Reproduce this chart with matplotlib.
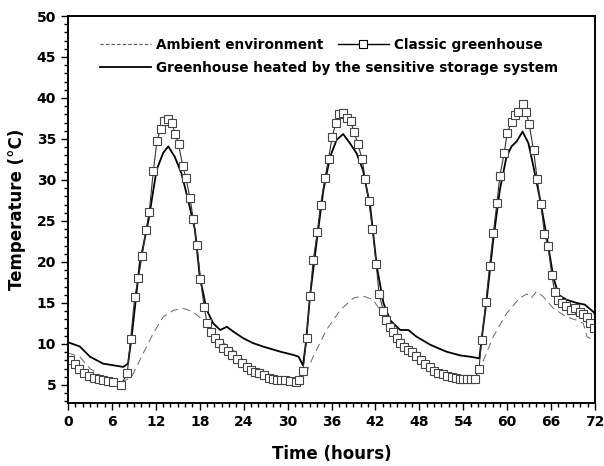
import matplotlib
matplotlib.use("Agg")
import matplotlib.pyplot as plt
from matplotlib.ticker import MultipleLocator
from matplotlib.lines import Line2D

# ---------------- data ----------------
ambient_t = [0.0, 1.6, 3.0, 4.4, 5.7, 7.1, 8.7, 10.3, 11.65, 13.0, 14.4, 15.75, 17.1, 18.5,
             19.5, 21.0, 22.5, 24.0, 25.5, 27.0, 28.5, 30.0, 31.5, 32.2, 33.5, 35.3, 37.2,
             39.0, 40.3, 41.7, 42.6, 43.5, 45.0, 46.5, 48.0, 49.5, 51.0, 52.5, 54.0, 55.5,
             56.2, 58.1, 59.9, 61.7, 62.7, 63.3, 64.0, 64.9, 66.3, 68.1, 69.5, 70.4, 70.9,
             71.5, 72.0]
ambient_T = [8.9, 8.45, 7.0, 6.2, 5.6, 5.2, 6.0, 8.9, 11.3, 13.3, 14.1, 14.35, 13.9, 12.9,
             11.8, 10.3, 9.3, 8.0, 7.0, 6.3, 6.1, 5.7, 5.5, 5.8, 8.45, 11.7, 14.15,
             15.6, 15.85, 15.4, 14.15, 12.7, 10.8, 9.3, 8.2, 7.2, 6.4, 6.0, 5.8, 5.9,
             6.8, 10.9, 13.7, 15.6, 16.1, 15.6, 16.4, 15.8, 14.35, 13.3, 12.9, 12.5, 10.9,
             10.6, 10.9]

classic_t = [0.3, 0.9, 1.5, 2.2, 2.9, 3.55, 4.2, 4.85, 5.5, 6.2, 7.2, 8.1, 8.56, 9.11, 9.61,
             10.1, 10.66, 11.1, 11.66, 12.16, 12.66, 13.1, 13.7, 14.2, 14.66, 15.1, 15.67,
             16.1, 16.67, 17.1, 17.6, 18.1, 18.6, 19.0, 19.6, 20.1, 20.6, 21.2, 21.8, 22.4,
             23.1, 23.8, 24.4, 25.0, 25.6, 26.1, 26.8, 27.5, 28.05, 28.6, 29.05, 29.6, 30.3,
             31.1, 31.6, 32.1, 32.6, 33.06, 33.5, 34.06, 34.5, 35.1, 35.6, 36.07, 36.6,
             37.0, 37.6, 38.07, 38.6, 39.07, 39.6, 40.2, 40.6, 41.1, 41.6, 42.1, 42.5,
             43.1, 43.5, 44.0, 44.4, 44.9, 45.4, 45.9, 46.5, 47.0, 47.6, 48.2, 48.8, 49.4,
             50.0, 50.6, 51.2, 51.8, 52.4, 53.0, 53.6, 54.0, 54.5, 55.0, 55.6, 56.15, 56.5,
             57.1, 57.6, 58.1, 58.6, 59.0, 59.6, 60.0, 60.6, 61.1, 61.5, 62.1, 62.6, 63.0,
             63.6, 64.1, 64.6, 65.1, 65.6, 66.1, 66.5, 67.0, 67.5, 68.1, 68.7, 69.3, 69.9,
             70.4, 70.9, 71.3, 71.8]
classic_T = [8.0, 7.5, 7.0, 6.5, 6.1, 5.9, 5.7, 5.6, 5.5, 5.4, 5.0, 6.4, 10.6, 15.7, 18.0,
             20.7, 23.9, 26.1, 31.1, 34.8, 36.2, 37.2, 37.4, 36.9, 35.6, 34.4, 31.7,
             30.3, 27.8, 25.3, 22.1, 17.9, 14.5, 12.6, 11.4, 10.7, 10.1, 9.55, 9.1, 8.7,
             8.2, 7.7, 7.2, 6.8, 6.6, 6.4, 6.2, 5.8, 5.7, 5.6, 5.6, 5.55, 5.5,
             5.4, 5.6, 6.7, 10.7, 15.9, 20.2, 23.6, 26.95, 30.2, 32.6, 35.2, 36.9,
             38.1, 38.2, 37.6, 37.2, 35.9, 34.4, 32.5, 30.1, 27.4, 24.0, 19.8, 16.1,
             14.0, 12.9, 12.1, 11.4, 10.7, 10.1, 9.6, 9.3, 9.0, 8.5, 8.0, 7.6, 7.2,
             6.75, 6.5, 6.3, 6.1, 5.94, 5.8, 5.73, 5.73, 5.77, 5.77, 5.77, 6.9, 10.5,
             15.1, 19.5, 23.5, 27.2, 30.5, 33.3, 35.7, 37.1, 37.9, 38.3, 39.3, 38.3, 36.8,
             33.7, 30.1, 27.1, 23.4, 21.9, 18.4, 16.3, 15.4, 15.0, 14.6, 14.15, 14.35, 13.9,
             13.7, 13.3, 12.6, 11.9]

heated_t = [0.0, 1.6, 3.0, 4.8, 6.2, 7.55, 8.2, 8.7, 9.8, 11.0, 12.1, 13.0, 13.7, 14.6, 15.5,
            16.4, 17.35, 18.0, 18.95, 19.85, 20.8, 21.7, 22.6, 23.95, 25.3, 26.7, 29.0,
            30.8, 31.5, 32.1, 32.5, 33.06, 34.0, 34.9, 35.8, 36.7, 37.6, 38.5, 39.4, 40.3,
            41.3, 42.2, 43.1, 44.0, 45.4, 46.5, 47.6, 49.5, 51.7, 53.6, 54.9, 56.2, 56.5,
            57.2, 58.1, 59.0, 59.9, 60.6, 61.3, 62.1, 62.9, 63.6, 64.5, 65.4, 66.3, 67.0,
            68.1, 69.5, 70.6, 71.8, 72.0]
heated_T = [10.2, 9.7, 8.45, 7.6, 7.4, 7.2, 7.6, 10.9, 19.8, 25.1, 31.2, 33.3, 34.1, 32.8, 30.8,
            27.6, 23.9, 18.2, 14.15, 12.5, 11.7, 12.1, 11.5, 10.7, 10.1, 9.67, 9.06,
            8.66, 8.45, 7.4, 10.1, 15.8, 22.7, 28.8, 32.8, 34.9, 35.6, 34.5, 33.3, 31.2,
            26.7, 19.4, 15.0, 12.9, 11.7, 11.7, 10.9, 9.9, 9.06, 8.6, 8.45, 8.25, 10.5,
            15.4, 22.7, 28.8, 32.8, 34.1, 34.7, 35.9, 34.5, 31.6, 27.6, 23.1, 18.2, 16.0,
            15.4, 15.0, 14.8, 13.9, 13.6]

x_ticks = list(range(0, 73, 6))
y_ticks = list(range(5, 51, 5))

labels = ["Ambient environment", "Classic greenhouse",
          "Greenhouse heated by the sensitive storage system"]

# ---------------- figure ----------------
plt.rcParams['font.family'] = ['DejaVu Sans']
plt.rcParams['font.weight'] = 'bold'

fig = plt.figure(figsize=(6.04, 4.66), dpi=100)
ax = fig.add_axes([68/604, 1-403/466, (595-68)/604, (403-16)/466])

amb_style = dict(color='#666666', lw=0.7, linestyle=(0, (8, 5)))
cls_style = dict(color='#333333', lw=0.8, marker='s', markersize=5.8,
                 markerfacecolor='white', markeredgecolor='#444444', markeredgewidth=0.8)
hea_style = dict(color='black', lw=1.3)

ax.plot(ambient_t, ambient_T, **amb_style)
ax.plot(heated_t, heated_T, **hea_style)
ax.plot(classic_t, classic_T, **cls_style)

ax.set_xlim(0, 72)
ax.set_ylim(2.8, 50)
ax.set_xticks(x_ticks)
ax.set_yticks(y_ticks)
ax.xaxis.set_minor_locator(MultipleLocator(1))
ax.yaxis.set_minor_locator(MultipleLocator(1))
ax.tick_params(which='both', direction='out', top=False, right=False, width=1.0,
               labelsize=10)
ax.tick_params(which='major', length=5)
ax.tick_params(which='minor', length=3)
for lab in ax.get_xticklabels() + ax.get_yticklabels():
    lab.set_fontweight('bold')
for s in ax.spines.values():
    s.set_linewidth(1.4)

ax.set_xlabel("Time (hours)", fontsize=12, fontweight='bold', labelpad=12)
ax.set_ylabel("Temperature (°C)", fontsize=12, fontweight='bold', labelpad=8)

# legends
h_amb = Line2D([], [], color='#555555', lw=0.8, linestyle=(0, (3, 2)))
h_cls = Line2D([], [], color='black', lw=1.0, marker='s', markersize=6,
               markerfacecolor='white', markeredgecolor='black', markeredgewidth=0.8)
h_hea = Line2D([], [], color='black', lw=1.3)

leg_kw = dict(frameon=False, borderpad=0, borderaxespad=0, handlelength=3.7,
              handletextpad=0.4, prop={'weight': 'bold', 'size': 9.8})
leg1 = ax.legend([h_amb, h_cls], labels[:2], ncol=2, loc='center left',
                 bbox_to_anchor=(0.061, 0.925), columnspacing=1.1, **leg_kw)
ax.add_artist(leg1)
leg2 = ax.legend([h_hea], labels[2:], loc='center left',
                 bbox_to_anchor=(0.061, 0.866), **leg_kw)

fig.savefig("out.png", dpi=100)
